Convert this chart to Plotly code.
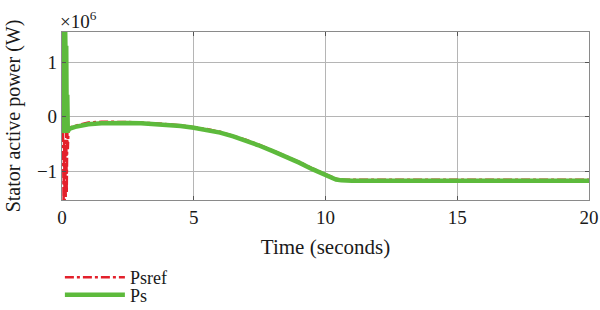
import plotly.graph_objects as go

# Time (s) and power (x1e6 W)
t_ref = [0.04, 0.06, 0.08, 0.10, 0.12, 0.14, 0.16, 0.18, 0.20, 0.22, 0.25, 0.3, 0.5, 1.0, 1.5, 2.0, 2.5, 3.0,
         3.5, 4.0, 4.5, 5.0, 5.5, 6.0, 6.5, 7.0, 7.5, 8.0, 8.5, 9.0, 9.5, 10.0, 10.2, 10.4, 10.6, 10.8,
         11.0, 12.0, 14.0, 16.0, 18.0, 20.0]
psref = [-0.3, -1.6, -0.4, -1.6, -0.5, -1.5, -0.3, -1.4, -0.25, -0.6, -0.22, -0.2, -0.17, -0.11, -0.095,
         -0.095, -0.10, -0.11, -0.12, -0.14, -0.16, -0.19, -0.23, -0.28, -0.35, -0.43, -0.52, -0.62, -0.72,
         -0.83, -0.95, -1.06, -1.10, -1.14, -1.155, -1.16, -1.16, -1.16, -1.16, -1.16, -1.16, -1.16]

t_ps = [0.0, 0.02, 0.04, 0.06, 0.08, 0.10, 0.12, 0.14, 0.16, 0.18, 0.20, 0.22, 0.25, 0.3, 0.5, 1.0, 1.5,
        2.0, 2.5, 3.0, 3.5, 4.0, 4.5, 5.0, 5.5, 6.0, 6.5, 7.0, 7.5, 8.0, 8.5, 9.0, 9.5, 10.0, 10.2, 10.4,
        10.6, 10.8, 11.0, 12.0, 14.0, 16.0, 18.0, 20.0]
ps = [1.8, -0.3, 1.7, -0.2, 1.7, -0.25, 1.6, 0.9, 1.3, -0.3, 0.4, -0.27, -0.25, -0.22, -0.19, -0.14, -0.125,
      -0.115, -0.12, -0.125, -0.135, -0.155, -0.175, -0.205, -0.245, -0.295, -0.365, -0.445, -0.535, -0.635,
      -0.735, -0.845, -0.965, -1.075, -1.115, -1.155, -1.17, -1.175, -1.175, -1.175, -1.175, -1.175,
      -1.175, -1.175]

y_tickvals = [-1, 0, 1]
y_ticktext = ["\u22121", "0", "1"]
x_tickvals = [0, 5, 10, 15, 20]

SCALE = 1e6
FONT = "Liberation Serif"
TXT = "#1a1a1a"

fig = go.Figure()
fig.add_trace(go.Scatter(x=t_ref, y=[v * SCALE for v in psref], mode="lines", name="Psref",
                         legend="legend",
                         line=dict(color="#e3202b", width=2.5, dash="dashdot")))
fig.add_trace(go.Scatter(x=t_ps, y=[v * SCALE for v in ps], mode="lines", name="Ps",
                         legend="legend2",
                         line=dict(color="#5dba3c", width=4.5)))

axis_common = dict(showline=True, linecolor="#8a8a8a", linewidth=1.2, mirror="ticks",
                   showgrid=True, gridcolor="#b5b5b5", gridwidth=1, zeroline=False,
                   ticks="inside", ticklen=4, tickcolor="#555", automargin=False,
                   tickfont=dict(family=FONT, size=19, color=TXT))

fig.update_xaxes(range=[0, 20], tickvals=x_tickvals,
                 title=dict(text="Time (seconds)", font=dict(family=FONT, size=21, color=TXT), standoff=13),
                 **axis_common)
fig.update_yaxes(range=[-1.53e6, 1.55e6], tickvals=[v * SCALE for v in y_tickvals], ticktext=y_ticktext,
                 title=dict(text="Stator active power (W)", font=dict(family=FONT, size=20, color=TXT),
                            standoff=10),
                 **axis_common)

fig.add_annotation(text="\u00d710<sup>6</sup>", xref="paper", yref="paper", x=0, y=1.0,
                   xanchor="left", yanchor="bottom", showarrow=False, yshift=-2, xshift=-4,
                   font=dict(family=FONT, size=19, color=TXT))

leg_common = dict(xref="paper", yref="container", xanchor="left", yanchor="middle",
                  orientation="v", font=dict(family=FONT, size=18, color=TXT), itemwidth=60,
                  bgcolor="rgba(0,0,0,0)")

fig.update_layout(
    width=600, height=310,
    margin=dict(l=62, r=11, t=32, b=110),
    paper_bgcolor="white", plot_bgcolor="white",
    showlegend=True,
    legend=dict(x=-0.004, y=0.105, **leg_common),
    legend2=dict(x=-0.004, y=0.048, **leg_common),
)

fig.write_html("out.html", config={"displayModeBar": False},
               post_script="document.body.style.margin='0';document.body.style.overflow='hidden';")
